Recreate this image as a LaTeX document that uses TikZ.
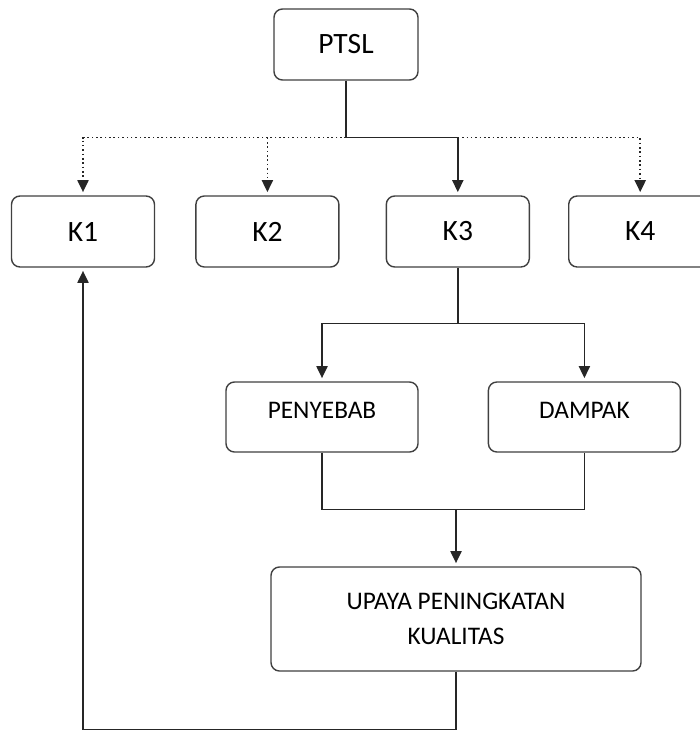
\documentclass[tikz,border=0pt]{standalone}
\usepackage{fontspec}
\setmainfont{Carlito}
\usepackage{tikz}
\usetikzlibrary{arrows.meta,positioning,calc}

\begin{document}
\begin{tikzpicture}[
  node distance=1cm and 1cm,
  kbox/.style={rectangle, rounded corners=6pt, draw=black!75, line width=1pt,
               fill=white, minimum width=3.575cm, minimum height=1.775cm,
               align=center, font=\fontsize{21}{25}\selectfont},
  sbox/.style={rectangle, rounded corners=6pt, draw=black!75, line width=1pt,
               fill=white, align=center, font=\fontsize{18}{25}\selectfont},
  line/.style={line width=1.1pt, black!85},
  arr/.style={-{Triangle[length=0.3cm, width=0.28cm]}, line width=1.1pt,
              black!85, shorten >=0.08cm},
  dotarr/.style={arr, dotted}
]
\useasboundingbox (0,0) rectangle (17.5,-18.275);

%% Top and first row
\node[kbox, minimum width=3.6cm] (ptsl) at (8.65,-1.1125) {PTSL};
\node[kbox] (k1) at (2.075,-5.7875) {K1};
\node[kbox, right=1.0cm of k1]  (k2) {K2};
\node[kbox, right=1.15cm of k2] (k3) {K3};
\node[kbox, right=0.95cm of k3] (k4) {K4};

%% Cause and effect
\node[sbox, minimum width=4.8cm, minimum height=1.75cm, text depth=0.32cm]
  (penyebab) at (8.05,-10.425) {PENYEBAB};
\node[sbox, minimum width=4.8cm, minimum height=1.75cm, text depth=0.32cm,
  right=1.725cm of penyebab] (dampak) {DAMPAK};

%% Improvement
\node[sbox, minimum width=9.25cm, minimum height=2.6cm] (upaya) at (11.4,-15.475)
  {UPAYA PENINGKATAN\\KUALITAS};

%% Junction points
\coordinate (bus)   at ($(ptsl.south)+(0,-1.425)$);
\coordinate (split) at ($(k3.south)+(0,-1.4)$);
\coordinate (merge) at ($(penyebab.south)+(0,-1.425)$);

%% PTSL to K1..K4
\draw[line] (ptsl.south) -- (bus);
\draw[arr] (bus) -| (k3.north);
\draw[dotarr] (bus) -| (k1.north);
\draw[dotarr] (k2.north |- bus) -- (k2.north);
\draw[dotarr] (k3.north |- bus) -| (k4.north);

%% K3 to cause and effect
\draw[line] (k3.south) -- (split);
\draw[arr] (split) -| (penyebab.north);
\draw[arr] (split) -| (dampak.north);

%% Cause and effect to improvement
\draw[line] (penyebab.south) -- (merge) -| (dampak.south);
\draw[arr] (merge -| upaya.north) -- (upaya.north);

%% Feedback to K1
\draw[arr] (upaya.south) -- ++(0,-1.45) -| (k1.south);

\end{tikzpicture}
\end{document}
